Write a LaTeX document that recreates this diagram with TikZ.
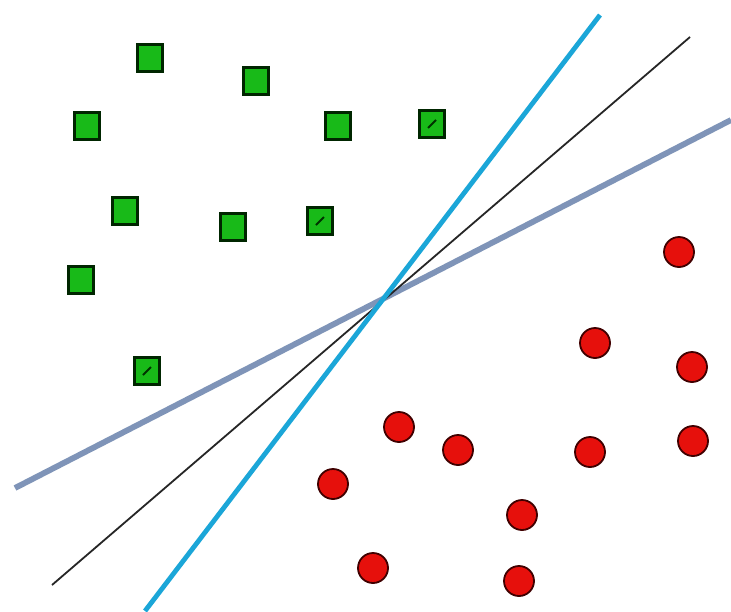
\documentclass[tikz,border=0pt]{standalone}
\begin{document}
\begin{tikzpicture}[x=1pt,y=-1pt,
  sq/.style={draw=black!85!green, line width=2.2pt, fill={rgb,255:red,24;green,186;blue,24}, minimum width=25pt, minimum height=27pt, inner sep=0pt, rectangle},
  dot/.style={draw=black!75!red, line width=1.8pt, fill={rgb,255:red,230;green,16;blue,12}, circle, minimum size=30pt, inner sep=0pt},
  slash/.style={draw=black!80!green, line width=2pt},
  lnblue/.style={line width=4.8pt, draw={rgb,255:red,27;green,166;blue,216}},
  lngray/.style={line width=5.8pt, draw={rgb,255:red,127;green,148;blue,184}},
  lnblack/.style={line width=1.8pt, draw=black!85}]
\useasboundingbox (0,0) rectangle (731,611);
\fill[white] (0,0) rectangle (731,611);
% green squares
\node[sq] (s1) at (150,58) {};
\node[sq] (s2) at (256,81) {};
\node[sq] (s3) at (87,126) {};
\node[sq] (s4) at (338,126) {};
\node[sq] (s5) at (432,124) {};
\node[sq] (s6) at (125,211) {};
\node[sq] (s7) at (233,227) {};
\node[sq] (s8) at (320,221) {};
\node[sq] (s9) at (81,280) {};
\node[sq] (s10) at (147,371) {};
\draw[slash] ([shift={(-4,4)}]s5.center) -- ([shift={(4,-4)}]s5.center);
\draw[slash] ([shift={(-4,4)}]s8.center) -- ([shift={(4,-4)}]s8.center);
\draw[slash] ([shift={(-4,4)}]s10.center) -- ([shift={(4,-4)}]s10.center);
% red circles
\node[dot] (c1) at (679,252) {};
\node[dot] (c2) at (595,343) {};
\node[dot] (c3) at (692,367) {};
\node[dot] (c4) at (399,427) {};
\node[dot] (c5) at (458,450) {};
\node[dot] (c6) at (590,452) {};
\node[dot] (c7) at (693,441) {};
\node[dot] (c8) at (333,484) {};
\node[dot] (c9) at (522,515) {};
\node[dot] (c10) at (373,568) {};
\node[dot] (c11) at (519,581) {};
% separating lines
\coordinate (g1) at (15,488);
\coordinate (g2) at (731,120);
\coordinate (k1) at (52,585);
\coordinate (k2) at (690,37);
\coordinate (b1) at (145,611);
\coordinate (b2) at (600,15);
\draw[lngray] (g1) -- (g2);
\draw[lnblack] (k1) -- (k2);
\draw[lnblue] (b1) -- (b2);
\end{tikzpicture}
\end{document}
